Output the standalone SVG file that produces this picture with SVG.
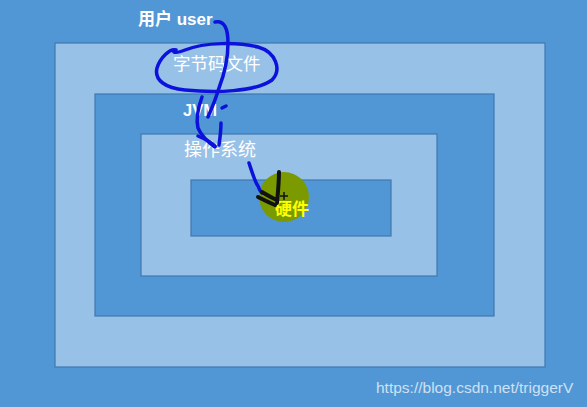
<svg xmlns="http://www.w3.org/2000/svg" width="587" height="407" viewBox="0 0 587 407">
<style>
.dark{fill:#5197d5;stroke:#3f78b0;stroke-width:1.2}
.light{fill:#98c1e7;stroke:#3f78b0;stroke-width:1.2}
.lbl{font-family:"Liberation Sans","Noto Sans CJK SC",sans-serif;fill:#ffffff}
.pen{fill:none;stroke:#0c12dc;stroke-width:3.5;stroke-linecap:round;stroke-linejoin:round}
.pen2{fill:none;stroke:#111111;stroke-width:4;stroke-linecap:round;stroke-linejoin:round}
</style>
<rect x="0" y="0" width="587" height="407" fill="#5197d5"/>
<g id="layer-bytecode">
<rect class="light" x="55" y="43" width="490" height="324"/>
</g>
<g id="layer-jvm">
<rect class="dark" x="95" y="94" width="399" height="222"/>
</g>
<g id="layer-os">
<rect class="light" x="141" y="134" width="296" height="142"/>
</g>
<g id="layer-hardware">
<rect class="dark" x="191" y="180" width="200" height="56"/>
<circle cx="284" cy="197" r="25" fill="#7a9a00"/>
</g>
<g id="labels">
<text class="lbl" x="138" y="25" font-size="17" font-weight="bold">用户 user</text>
<text class="lbl" x="173" y="70" font-size="17.5">字节码文件</text>
<text class="lbl" x="183" y="116" font-size="16.5" font-weight="bold">JVM</text>
<text class="lbl" x="184" y="156" font-size="18">操作系统</text>
<text x="275" y="215" font-size="17" font-weight="bold" font-family="Liberation Sans,Noto Sans CJK SC,sans-serif" fill="#ffff00">硬件</text>
</g>
<g id="connectors">
<path class="pen" d="M215,22 C224,20 228,28 228,43 C228,58 224,75 219,88 C216,98 212,108 208,117"/>
<path class="pen" d="M176,50 C170,48 160,58 157,68 C154,80 165,88 185,90 C215,93 255,92 272,80 C282,70 276,52 258,47 C238,42 205,42 185,50 C180,52 176,53 174,52"/>
<path class="pen" d="M222,108 L226,106"/>
<path class="pen" d="M202,97 C198,108 196,120 198,128 C201,135 208,142 215,147"/>
<path class="pen" d="M221,123 C221,130 220,138 219,145 M198,136 C205,139 211,142 215,146"/>
<path class="pen" d="M249,163 C252,172 255,182 258,186 C259,189 261,192 262,193"/>
<path class="pen2" d="M279,172 C279,182 278,192 277,203 M262,192 C267,195 272,198 277,200 M258,197 C264,200 270,203 275,205"/>
<path d="M284,192 L284,200 M280,196 L288,196" stroke="#111" stroke-width="1.5"/>
</g>
<text x="376" y="393" font-size="15.5" font-family="Liberation Sans,sans-serif" fill="#cfe0f2">https://blog.csdn.net/triggerV</text>
</svg>
